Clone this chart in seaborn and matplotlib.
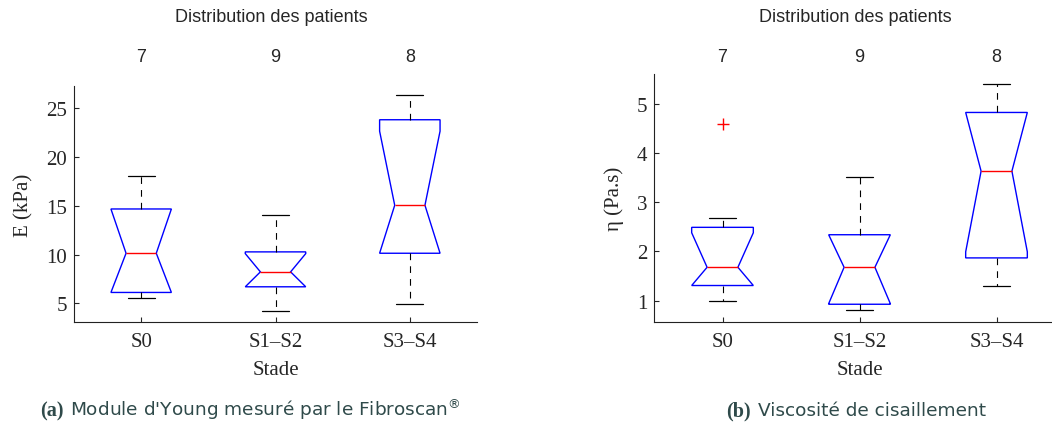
import matplotlib
matplotlib.use("Agg")
import matplotlib.pyplot as plt
import matplotlib.path as mpath
import matplotlib.transforms as mtransforms
import seaborn as sns
import numpy as np
import pandas as pd

stades = ["S0", "S1–S2", "S3–S4"]

# Module d'Young E (kPa), one list of patients per stage
young_s0 = [5.55, 5.9, 6.36, 10.15, 13.2, 16.18, 18.1]
young_s1s2 = [4.21, 5.8, 6.71, 7.5, 8.24, 9.1, 10.29, 11.9, 14.11]
young_s3s4 = [4.97, 9.4, 10.4, 13.9, 16.24, 23.5, 24.86, 26.37]

# Viscosité de cisaillement eta (Pa.s)
visco_s0 = [1.0, 1.2, 1.42, 1.68, 2.30, 2.68, 4.58]
visco_s1s2 = [0.82, 0.88, 0.93, 1.3, 1.68, 2.0, 2.34, 2.9, 3.52]
visco_s3s4 = [1.31, 1.75, 1.91, 3.3, 3.96, 4.7, 5.18, 5.39]


def to_long(groups):
    rows = []
    for stade, vals in zip(stades, groups):
        for v in vals:
            rows.append({"stade": stade, "val": v})
    return pd.DataFrame(rows)


sns.set_style("ticks")
plt.rcParams["font.family"] = ["Liberation Serif", "DejaVu Serif"]
plt.rcParams["mathtext.fontset"] = "dejavusans"

SANS = ["Liberation Sans", "DejaVu Sans"]
CAPTION_COLOR = "#2f4a4a"


def notched(ax, groups, ylabel, ylim, yticks):
    df = to_long(groups)
    sns.boxplot(
        data=df, x="stade", y="val", order=stades, ax=ax,
        width=0.45, notch=True, fill=True, whis=1.5, linewidth=1.0,
        boxprops=dict(facecolor="none", edgecolor="blue", linewidth=1.0),
        medianprops=dict(color="red", linewidth=1.0),
        whiskerprops=dict(color="black", linewidth=0.8, linestyle=(0, (6, 5.5))),
        capprops=dict(color="black", linewidth=0.9),
        flierprops=dict(marker="+", markeredgecolor="red", markersize=9,
                        markeredgewidth=1.0),
        capwidths=0.2,
    )
    # clip the notch to the box, like matlab does
    for p in ax.patches:
        path = p.get_path()
        v = path.vertices.copy()
        lo, hi = sorted([v[0, 1], v[5, 1]])
        v[:, 1] = np.clip(v[:, 1], lo, hi)
        newpath = mpath.Path(v, path.codes)
        if hasattr(p, "set_path"):
            p.set_path(newpath)
        else:
            p._path = newpath

    ax.set_xlim(-0.5, 2.5)
    ax.set_ylim(*ylim)
    ax.set_yticks(yticks)
    sns.despine(ax=ax)
    for s in ["left", "bottom"]:
        ax.spines[s].set_linewidth(0.8)
        ax.spines[s].set_color("#222222")
    ax.tick_params(direction="in", length=3.3, width=0.8, labelsize=15, pad=5)
    ax.tick_params(axis="x", pad=7)
    ax.set_xlabel("Stade", fontsize=15, labelpad=7)
    ax.set_ylabel(ylabel, fontsize=15, labelpad=9)

    # number of patients above each box
    trans = mtransforms.blended_transform_factory(ax.transData, fig.transFigure)
    for i, vals in enumerate(groups):
        ax.text(i, 1 - 58 / 427, str(len(vals)), transform=trans, ha="center",
                va="center", fontsize=13, family=SANS)
    bb = ax.get_position()
    fig.text((bb.x0 + bb.x1) / 2 - 4 / 1052, 1 - 18 / 427,
             "Distribution des patients",
             ha="center", va="center", fontsize=13, family=SANS)


fig = plt.figure(figsize=(10.52, 4.27), dpi=100)
ax1 = fig.add_axes([74 / 1052, 104 / 427, 403 / 1052, 236 / 427])
ax2 = fig.add_axes([654 / 1052, 104 / 427, 411 / 1052, 248 / 427])

notched(ax1, [young_s0, young_s1s2, young_s3s4], "E (kPa)", (3.1, 27.3),
        [5, 10, 15, 20, 25])
notched(ax2, [visco_s0, visco_s1s2, visco_s3s4], "η (Pa.s)", (0.57, 5.6),
        [1, 2, 3, 4, 5])

# captions: bold label in serif, text in sans
fig.canvas.draw()
renderer = fig.canvas.get_renderer()
captions = [("(a)", "Module d'Young mesuré par le Fibroscan$^{\\circledR}$", 40),
            ("(b)", "Viscosité de cisaillement", 726)]
ycap = 1 - 416 / 427
for lab, txt, x0 in captions:
    t1 = fig.text(x0 / 1052, ycap, lab, fontsize=14.5, weight="bold",
                  color=CAPTION_COLOR, va="baseline", ha="left")
    ext = t1.get_window_extent(renderer)
    fig.text((ext.x1 + 7) / 1052, ycap, txt, fontsize=13.3,
             family=["DejaVu Sans"],
             color=CAPTION_COLOR, va="baseline", ha="left")

fig.savefig("out.png", dpi=100)
